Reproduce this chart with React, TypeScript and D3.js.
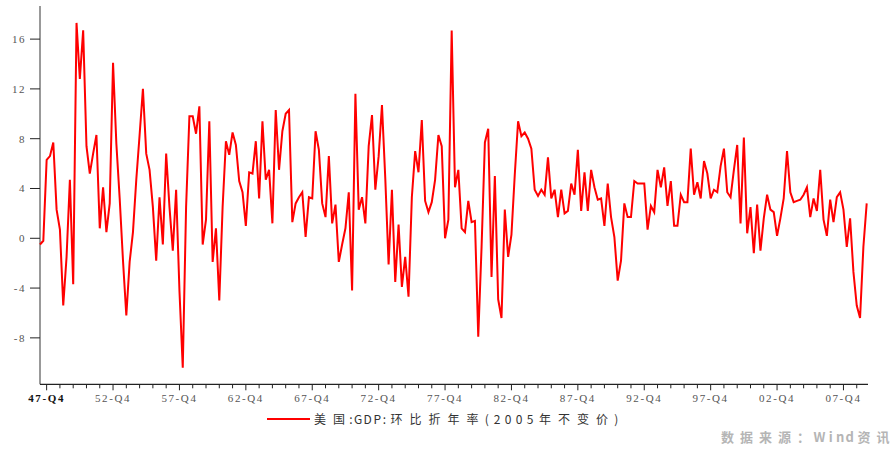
import React from "react";
import * as d3 from "d3";

// 1947-Q2 ... 2009-Q3
const startYear = 1947;
const startQuarter = 2;
const gdpGrowth: number[] = [
  -0.5, -0.2, 6.3, 6.6, 7.7, 2.3, 0.7, -5.4, -1.5, 4.7,
  -3.7, 17.3, 12.8, 16.7, 7.4, 5.2, 6.8, 8.3, 0.8, 4.1,
  0.5, 2.8, 14.1, 7.6, 3.2, -1.8, -6.2, -1.9, 0.5, 4.7,
  8.3, 12.0, 6.8, 5.5, 2.5, -1.8, 3.3, -0.5, 6.8, 2.5,
  -1.0, 3.9, -4.2, -10.4, 2.5, 9.8, 9.8, 8.4, 10.6, -0.5,
  1.5, 9.4, -1.9, 0.8, -5.0, 2.5, 7.8, 6.7, 8.5, 7.5,
  4.6, 3.7, 1.0, 5.3, 5.2, 7.8, 3.2, 9.4, 4.7, 5.5,
  1.2, 10.3, 5.5, 8.6, 10.0, 10.3, 1.3, 2.8, 3.3, 3.7,
  0.1, 3.3, 3.2, 8.6, 7.1, 2.8, 1.7, 6.6, 1.2, 2.7,
  -1.9, -0.5, 0.8, 3.7, -4.2, 11.6, 2.3, 3.3, 1.2, 7.4,
  9.9, 3.9, 6.6, 10.7, 4.8, -2.1, 3.9, -3.5, 1.1, -3.9,
  -1.5, -4.7, 3.3, 7.0, 5.3, 9.5, 3.0, 2.1, 2.9, 4.7,
  8.3, 7.4, 0.0, 1.5, 16.7, 4.1, 5.5, 0.8, 0.5, 3.0,
  1.3, 1.4, -7.9, -0.7, 7.7, 8.8, -3.1, 5.0, -4.9, -6.4,
  2.3, -1.5, 0.3, 5.1, 9.4, 8.2, 8.5, 8.0, 7.2, 3.9,
  3.4, 3.9, 3.5, 6.5, 3.2, 3.9, 1.7, 3.9, 2.0, 2.2,
  4.4, 3.5, 7.1, 2.2, 5.3, 2.2, 5.5, 4.1, 3.1, 3.2,
  1.0, 4.4, 1.7, 0.1, -3.4, -1.8, 2.8, 1.7, 1.7, 4.6,
  4.4, 4.4, 4.4, 0.7, 2.6, 2.1, 5.5, 4.1, 5.7, 2.6,
  4.6, 1.0, 1.0, 3.5, 2.9, 2.9, 7.2, 3.5, 4.5, 3.2,
  6.2, 5.2, 3.2, 3.9, 3.7, 5.8, 7.2, 3.7, 3.3, 5.5,
  7.5, 1.2, 8.1, 0.4, 2.5, -1.2, 2.7, -1.0, 1.6, 3.5,
  2.3, 2.1, 0.2, 1.6, 3.2, 7.0, 3.7, 2.9, 3.0, 3.1,
  3.5, 4.1, 1.7, 3.2, 2.2, 5.5, 1.5, 0.2, 3.1, 1.3,
  3.3, 3.7, 2.3, -0.7, 1.6, -2.7, -5.4, -6.4, -0.7, 2.8,
];

const categories: string[] = gdpGrowth.map((_, i) => {
  const q = startQuarter - 1 + i;
  const yr = startYear + Math.floor(q / 4);
  return `${String(yr % 100).padStart(2, "0")}-Q${(q % 4) + 1}`;
});

const xTickLabels = ["47-Q4", "52-Q4", "57-Q4", "62-Q4", "67-Q4", "72-Q4", "77-Q4", "82-Q4", "87-Q4", "92-Q4", "97-Q4", "02-Q4", "07-Q4"];
const yTicks = [-8, -4, 0, 4, 8, 12, 16];
const legendLabel = "美国:GDP:环比折年率(2005年不变价)";
const sourceLabel = "数据来源：Wind资讯";

const charWidth = (ch: string) => {
  if (/[\u3000-\u9fff\uff00-\uffef]/.test(ch)) return 19;
  if (ch === ":") return 5;
  if (ch === "W") return 13;
  if (/[0-9]/.test(ch)) return 11;
  return 9.5;
};

function SpacedText({ text, x0, y, ...rest }: any) {
  let cx = x0;
  const chars = Array.from(text as string);
  const centers: number[] = [];
  chars.forEach((ch, i) => {
    if (i > 0) cx += (charWidth(chars[i - 1]) + charWidth(ch)) / 2;
    centers.push(cx);
  });
  return (
    <text y={y} textAnchor="middle" {...rest}>
      {chars.map((ch, i) => (
        <tspan key={i} x={centers[i]} y={y}>{ch}</tspan>
      ))}
    </text>
  );
}

export default function App() {
  const width = 896;
  const height = 450;
  const x0 = 40;
  const xEnd = 868;
  const yTop = 6;
  const yBottom = 384.3;

  const x = d3.scalePoint<string>().domain(categories).range([40, 866.7]);
  const y = d3.scaleLinear().domain([-11.73, 18.66]).range([yBottom, yTop]);

  const line = d3
    .line<number>()
    .x((_, i) => x(categories[i]) as number)
    .y((d) => y(d));

  const q4 = categories.filter((c) => c.endsWith("-Q4"));
  const axisFont = "'Liberation Serif', 'DejaVu Serif', serif";

  return (
    <svg width={width} height={height} style={{ position: "absolute", left: 0, top: 0, background: "#fff" }}>
      {/* y axis */}
      <line x1={x0} x2={x0} y1={yTop} y2={yBottom} stroke="#555" strokeWidth={1.2} />
      {yTicks.map((t) => (
        <g key={t}>
          <line x1={x0 - 10} x2={x0} y1={y(t)} y2={y(t)} stroke="#222" strokeWidth={1} />
          <text x={26} y={y(t)} dy="0.35em" textAnchor="end" fontFamily={axisFont} fontSize={11} letterSpacing={1.5} fill="#555">
            {t}
          </text>
        </g>
      ))}

      {/* x axis */}
      <line x1={x0} x2={xEnd} y1={yBottom} y2={yBottom} stroke="#222" strokeWidth={1.2} />
      {q4.map((c) => {
        const major = xTickLabels.includes(c);
        const px = x(c) as number;
        return (
          <line key={c} x1={px} x2={px} y1={yBottom} y2={yBottom + (major ? 6 : 4)} stroke="#222" strokeWidth={1} />
        );
      })}
      {xTickLabels.map((c, i) => (
        <text
          key={c}
          x={x(c) as number}
          y={402}
          textAnchor="middle"
          fontFamily={axisFont}
          fontSize={11}
          letterSpacing={1.6}
          fontWeight={i === 0 ? "bold" : "normal"}
          fill={i === 0 ? "#111" : "#555"}
        >
          {c}
        </text>
      ))}

      {/* series */}
      <path d={line(gdpGrowth) || ""} fill="none" stroke="#ff0000" strokeWidth={2} />

      {/* legend */}
      <line x1={267} x2={310} y1={419} y2={419} stroke="#ff0000" strokeWidth={2} />
      <SpacedText text={legendLabel} x0={320} y={423.5} fontFamily="'Noto Sans CJK SC', sans-serif" fontSize={12} fill="#333" />

      {/* source */}
      <SpacedText text={sourceLabel} x0={727.5} y={442} fontFamily="'Noto Sans CJK SC', sans-serif" fontSize={13} fontWeight="bold" fill="#b5b5b5" />
    </svg>
  );
}
